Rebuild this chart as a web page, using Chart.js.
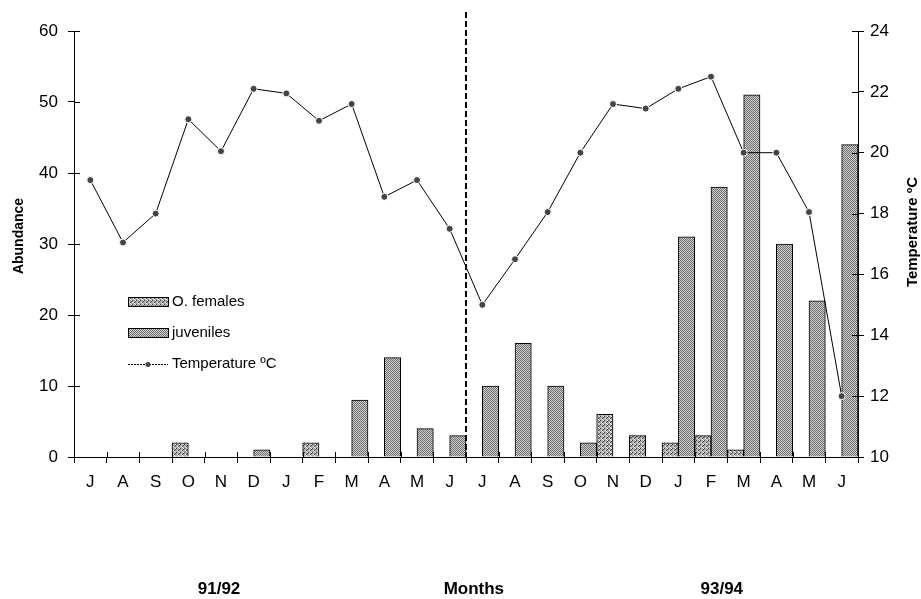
<!DOCTYPE html>
<html>
<head>
<meta charset="utf-8">
<script src="https://cdn.jsdelivr.net/npm/chart.js@4/dist/chart.umd.min.js"></script>
<style>
  html, body { margin: 0; padding: 0; background: #fff; }
  #wrap { width: 921px; height: 599px; }
</style>
</head>
<body>
<div id="wrap"><canvas id="chart" width="921" height="599"></canvas></div>
<script>
// months Jul 91 .. Jun 92 , Jul 93 .. Jun 94
const months = ['J','A','S','O','N','D','J','F','M','A','M','J','J','A','S','O','N','D','J','F','M','A','M','J'];
const females = [0,0,0,2,0,0,0,2,0,0,0,0, 0,0,0,0,6,3,2,3,1,0,0,0];
const juveniles = [0,0,0,0,0,1,0,0,8,14,4,3, 10,16,10,2,0,0,31,38,51,30,22,44];
const temperature = [19.1,17.05,18.0,21.1,20.05,22.1,21.95,21.05,21.6,18.55,19.1,17.5, 15.0,16.5,18.05,20.0,21.6,21.45,22.1,22.5,20.0,20.0,18.05,12.0];
const seasonLabels = ['91/92', 'Months', '93/94'];

const FONT = '"Liberation Sans", Arial, Helvetica, sans-serif';

// textures for the bars
function makePattern(size, draw) {
    const c = document.createElement('canvas');
    c.width = size; c.height = size;
    const g = c.getContext('2d');
    draw(g);
    return g.createPattern(c, 'repeat');
}
const ctx = document.getElementById('chart').getContext('2d');
const femalePattern = makePattern(4, g => {
    g.fillStyle = '#aaaaaa'; g.fillRect(0, 0, 4, 4);
    g.fillStyle = '#444'; g.fillRect(0, 0, 1, 1); g.fillRect(2, 2, 1, 1); g.fillRect(3, 1, 1, 1);
    g.fillStyle = '#eee'; g.fillRect(1, 2, 1, 1); g.fillRect(3, 0, 1, 1); g.fillRect(2, 3, 1, 1);
});
const juvenilePattern = makePattern(2, g => {
    g.fillStyle = '#cecece'; g.fillRect(0, 0, 2, 2);
    g.fillStyle = '#707070'; g.fillRect(0, 0, 1, 1); g.fillRect(1, 1, 1, 1);
});

// dashed separator, inner tick stubs, legend and titles
const extras = {
    id: 'extras',
    beforeDraw(chart) {
        const c = chart.ctx;
        c.save();
        c.fillStyle = '#fff';
        c.fillRect(0, 0, chart.width, chart.height);
        c.restore();
    },
    afterDraw(chart) {
        const c = chart.ctx;
        const x = chart.scales.x, y = chart.scales.y, y1 = chart.scales.y1;
        const area = chart.chartArea;
        c.save();
        c.strokeStyle = '#000';
        c.lineWidth = 1;

        // inner halves of the tick marks
        c.beginPath();
        y.ticks.forEach((t, i) => {
            const py = Math.round(y.getPixelForTick(i)) + 0.5;
            c.moveTo(area.left, py); c.lineTo(area.left + 6, py);
        });
        y1.ticks.forEach((t, i) => {
            const py = Math.round(y1.getPixelForTick(i)) + 0.5;
            c.moveTo(area.right, py); c.lineTo(area.right - 6, py);
        });
        for (let i = 0; i <= months.length; i++) {
            const px = Math.round(x.getPixelForValue(i - 0.5)) + 0.5;
            c.moveTo(px, area.bottom); c.lineTo(px, area.bottom - 5);
        }
        c.stroke();

        // dashed line between the two years
        const sx = Math.round(x.getPixelForValue(11.5));
        c.beginPath();
        c.lineWidth = 2;
        c.setLineDash([6, 3]);
        c.moveTo(sx, 12); c.lineTo(sx, area.bottom);
        c.stroke();
        c.setLineDash([]);

        // legend
        const lx = 128, sw = 40;
        c.font = '15px ' + FONT;
        c.fillStyle = '#000';
        c.textBaseline = 'middle';
        const rows = [
            { label: 'O. females', fill: femalePattern, yy: 302 },
            { label: 'juveniles', fill: juvenilePattern, yy: 333 }
        ];
        rows.forEach(r => {
            c.fillStyle = r.fill;
            c.fillRect(lx, r.yy - 5, sw, 9);
            c.lineWidth = 1;
            c.strokeStyle = '#000';
            c.strokeRect(lx + 0.5, r.yy - 4.5, sw, 9);
            c.fillStyle = '#000';
            c.fillText(r.label, lx + sw + 4, r.yy);
        });
        c.beginPath();
        c.setLineDash([2, 1]);
        c.moveTo(lx, 364.5); c.lineTo(lx + sw, 364.5);
        c.stroke();
        c.setLineDash([]);
        c.beginPath();
        c.arc(lx + sw / 2, 364.5, 2.5, 0, Math.PI * 2);
        c.fillStyle = '#444';
        c.fill();
        c.fillStyle = '#000';
        c.fillText('Temperature ºC', lx + sw + 4, 364);

        // axis titles
        c.font = 'bold 14px ' + FONT;
        c.textAlign = 'center';
        c.save();
        c.translate(19, 236); c.rotate(-Math.PI / 2);
        c.fillText('Abundance', 0, 0);
        c.restore();
        c.font = 'bold 15px ' + FONT;
        c.save();
        c.translate(913, 232); c.rotate(-Math.PI / 2);
        c.fillText('Temperature ºC', 0, 0);
        c.restore();

        c.font = 'bold 17px ' + FONT;
        const bx = [x.getPixelForValue(3.94), x.getPixelForValue(11.74), x.getPixelForValue(19.33)];
        seasonLabels.forEach((s, i) => c.fillText(s, bx[i], 589));
        c.restore();
    }
};

const chart = new Chart(ctx, {
    data: {
        labels: months,
        datasets: [
            {
                type: 'bar',
                label: 'O. females',
                data: females,
                backgroundColor: femalePattern,
                borderColor: '#000',
                borderWidth: 1,
                borderSkipped: 'bottom',
                yAxisID: 'y',
                order: 1
            },
            {
                type: 'bar',
                label: 'juveniles',
                data: juveniles,
                backgroundColor: juvenilePattern,
                borderColor: '#000',
                borderWidth: 1,
                borderSkipped: 'bottom',
                yAxisID: 'y',
                order: 1
            },
            {
                type: 'line',
                label: 'Temperature ºC',
                data: temperature,
                borderColor: '#000',
                borderWidth: 1,
                pointRadius: 3.5,
                pointBackgroundColor: '#444',
                pointBorderColor: '#fff',
                pointBorderWidth: 1,
                tension: 0,
                yAxisID: 'y1',
                order: 0
            }
        ]
    },
    options: {
        responsive: false,
        animation: false,
        events: [],
        layout: { padding: { top: 31, left: 0, right: 0, bottom: 0 } },
        datasets: { bar: { categoryPercentage: 1.0, barPercentage: 1.0 } },
        plugins: { legend: { display: false }, tooltip: { enabled: false } },
        scales: {
            x: {
                offset: true,
                grid: { offset: true, drawOnChartArea: false, color: '#000', tickLength: 6 },
                border: { color: '#000', width: 1 },
                ticks: { color: '#000', font: { family: FONT, size: 17 }, padding: 9, maxRotation: 0, autoSkip: false },
                afterFit(s) { s.height = 142; }
            },
            y: {
                position: 'left',
                min: 0, max: 60,
                grid: { drawOnChartArea: false, color: '#000', tickLength: 6 },
                border: { color: '#000', width: 1 },
                ticks: { stepSize: 10, color: '#000', font: { family: FONT, size: 17 }, padding: 10 },
                afterFit(s) { s.width = 74; }
            },
            y1: {
                position: 'right',
                min: 10, max: 24,
                grid: { drawOnChartArea: false, color: '#000', tickLength: 6 },
                border: { color: '#000', width: 1 },
                ticks: { stepSize: 2, color: '#000', font: { family: FONT, size: 17 }, padding: 6 },
                afterFit(s) { s.width = 63; }
            }
        }
    },
    plugins: [extras]
});
</script>
</body>
</html>
